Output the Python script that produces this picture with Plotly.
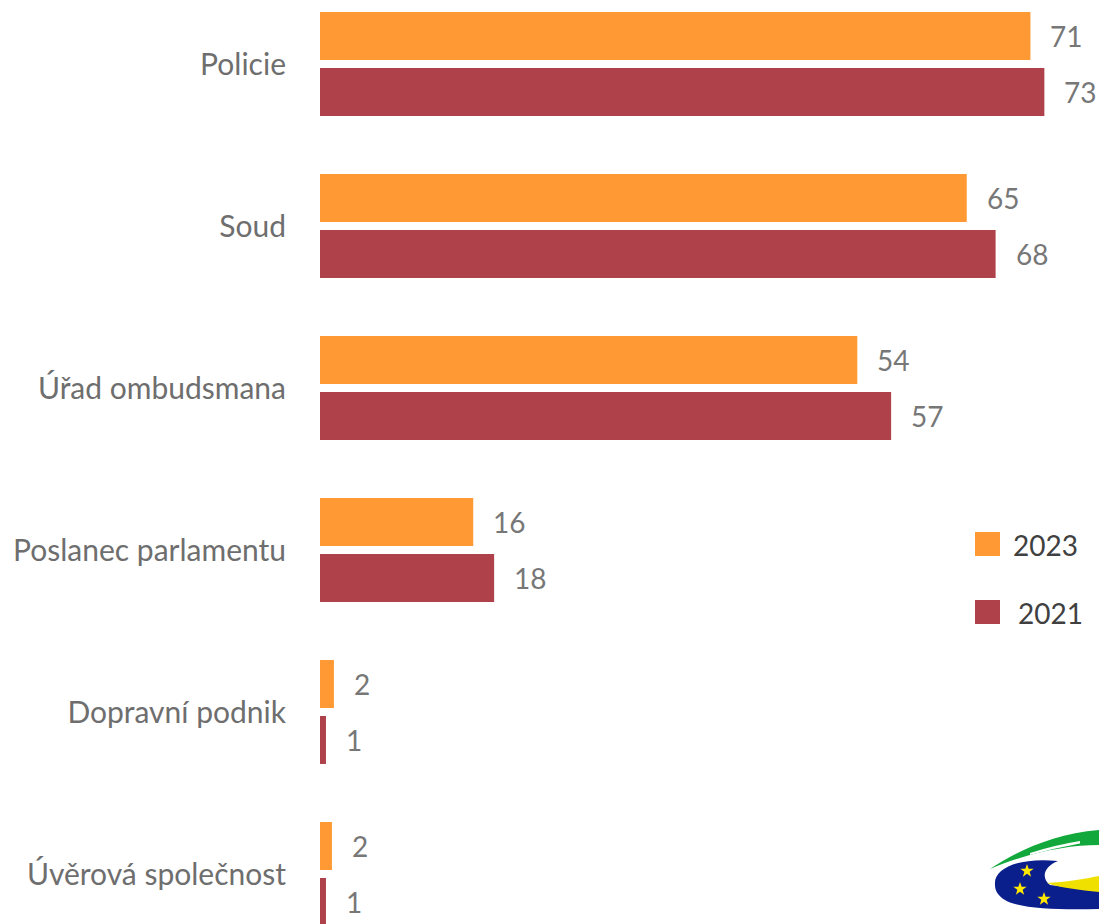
import math
import plotly.graph_objects as go

# data
categories = [
    "Policie",
    "Soud",
    "Úřad ombudsmana",
    "Poslanec parlamentu",
    "Dopravní podnik",
    "Úvěrová společnost",
]
values_2023 = [71.4, 65.0, 54.0, 15.4, 1.4, 1.2]
values_2021 = [72.8, 67.9, 57.4, 17.5, 0.6, 0.6]
labels_2023 = ["71", "65", "54", "16", "2", "2"]
labels_2021 = ["73", "68", "57", "18", "1", "1"]
series_names = ["2023", "2021"]

ORANGE = "#FF9933"
RED = "#AE414A"
FONT = "Lato, 'Open Sans', sans-serif"

W, H = 1099, 924
LEFT = 320

fig = go.Figure()
fig.add_trace(go.Bar(y=categories, x=values_2023, orientation="h", name=series_names[0],
                     marker=dict(color=ORANGE, line=dict(width=0)), hoverinfo="x+y"))
fig.add_trace(go.Bar(y=categories, x=values_2021, orientation="h", name=series_names[1],
                     marker=dict(color=RED, line=dict(width=0)), hoverinfo="x+y"))

# value labels next to bar ends
annotations = []
for vals, labs, shift in [(values_2023, labels_2023, 28), (values_2021, labels_2021, -28)]:
    for cat, v, lab in zip(categories, vals, labs):
        annotations.append(dict(
            x=v, y=cat, xref="x", yref="y", text=lab, showarrow=False,
            xanchor="left", yanchor="middle", xshift=18, yshift=shift,
            font=dict(family=FONT, size=28, color="#777777"),
        ))


def px(x):
    return (x - LEFT) / (W - LEFT)


def py(y):
    return 1 - y / H


# hand made legend
shapes = []
for name, col, ytop, tx in [(series_names[0], ORANGE, 532, 1011), (series_names[1], RED, 600, 1016)]:
    shapes.append(dict(type="rect", xref="paper", yref="paper",
                       x0=px(975), x1=px(1000), y0=py(ytop + 24), y1=py(ytop),
                       fillcolor=col, line=dict(width=0)))
    annotations.append(dict(x=px(tx), y=py(ytop + 13), xref="paper", yref="paper",
                            text=name, showarrow=False, xanchor="left", yanchor="middle",
                            font=dict(family=FONT, size=28, color="#404040")))


# rough ministry logo in the bottom right corner (pixel coordinates -> paper)
def path(points):
    out = []
    for cmd, pts in points:
        coords = " ".join(f"{px(a):.5f},{py(b):.5f}" for a, b in pts)
        out.append(f"{cmd} {coords}")
    return " ".join(out) + " Z"


def star(cx, cy, r_out=7, r_in=2.8):
    pts = []
    for k in range(10):
        r = r_out if k % 2 == 0 else r_in
        ang = -math.pi / 2 + k * math.pi / 5
        pts.append((cx + r * math.cos(ang), cy + r * math.sin(ang)))
    return path([("M", [pts[0]])] + [("L", [p]) for p in pts[1:]])


green = path([("M", [(990, 869)]), ("C", [(1010, 855), (1050, 834), (1099, 830)]),
              ("L", [(1099, 845)]), ("C", [(1068, 845), (1030, 852), (990, 869)])])
slit = path([("M", [(1030, 853)]), ("Q", [(1055, 845), (1080, 841)]),
             ("L", [(1080, 843.5)]), ("Q", [(1055, 848), (1030, 855)])])
blue = path([("M", [(995, 885)]), ("C", [(993, 868), (1020, 857), (1058, 861)]),
             ("C", [(1045, 866), (1040, 877), (1050, 885)]), ("L", [(1099, 891)]),
             ("L", [(1099, 909)]), ("C", [(1060, 910), (1020, 909), (1005, 900)]),
             ("C", [(997, 895), (995, 890), (995, 885)])])
yellow = path([("M", [(1047, 883)]), ("C", [(1065, 882), (1085, 879), (1099, 876)]),
               ("L", [(1099, 892)]), ("C", [(1080, 890), (1060, 888), (1047, 883)])])
logo = [(green, "#12A83C"), (slit, "white"), (blue, "#0A1E8C"), (yellow, "#F0E000")]
for sx, sy in [(1027, 871), (1020, 889), (1044, 899)]:
    logo.append((star(sx, sy), "#FFE800"))
for p, c in logo:
    shapes.append(dict(type="path", xref="paper", yref="paper", path=p,
                       fillcolor=c, line=dict(width=0), layer="above"))

fig.update_layout(
    width=W, height=H,
    margin=dict(l=LEFT, r=0, t=0, b=0),
    paper_bgcolor="white", plot_bgcolor="white",
    barmode="group", bargap=0.309, bargroupgap=0.143,
    showlegend=False,
    font=dict(family=FONT, size=28, color="#6E6E6E"),
    annotations=annotations,
    shapes=shapes,
)
fig.update_xaxes(range=[0, (W - LEFT) / 9.95], showgrid=False, zeroline=False,
                 showticklabels=False, showline=False, fixedrange=True)
fig.update_yaxes(type="category", range=[(H - 64) / 162, -64 / 162], showgrid=False,
                 zeroline=False, showline=False, ticks="", ticklabelstandoff=33,
                 tickfont=dict(family=FONT, size=30, color="#6E6E6E"), fixedrange=True)

fig.write_html("out.html", config={"displayModeBar": False},
               post_script="document.body.style.margin='0';")
